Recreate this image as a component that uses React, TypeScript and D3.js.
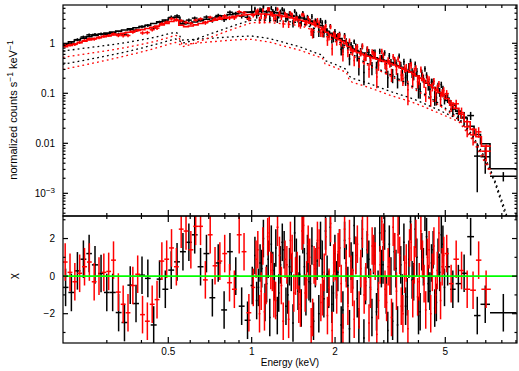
import React from 'react';
import * as d3 from 'd3';

// ---- dataset 1 (black): bin edges in keV, model per bin, relative error, residual (chi)
const blackEdges = [
  0.208, 0.218, 0.229, 0.241, 0.253, 0.265, 0.279, 0.293, 0.307, 0.323,
  0.339, 0.356, 0.373, 0.392, 0.412, 0.432, 0.454, 0.476, 0.5, 0.525,
  0.551, 0.579, 0.608, 0.638, 0.67, 0.704, 0.739, 0.776, 0.815, 0.855,
  0.898, 0.943, 0.99,
  1.02, 1.05, 1.08, 1.11, 1.14, 1.17, 1.2, 1.23, 1.26, 1.3,
  1.34, 1.38, 1.42, 1.46, 1.5, 1.54, 1.58, 1.62, 1.66, 1.71,
  1.76, 1.81, 1.86, 1.91, 1.96, 2.01, 2.06, 2.12, 2.18, 2.24,
  2.3, 2.36, 2.42, 2.49, 2.56, 2.63, 2.7, 2.77, 2.84, 2.92,
  3.0, 3.08, 3.16, 3.25, 3.34, 3.43, 3.52, 3.62, 3.72, 3.82,
  3.92, 4.03, 4.14, 4.25, 4.37, 4.49, 4.61, 4.74, 4.87, 5.0,
  5.2, 5.45, 5.7, 6.0, 6.35, 6.7, 7.25, 9.05,
];
const blackModel = [
  0.98, 1.07, 1.16, 1.26, 1.36, 1.44, 1.52, 1.6, 1.67, 1.75,
  1.84, 1.94, 2.04, 2.15, 2.3, 2.48, 2.68, 2.92, 3.2, 3.3,
  2.45, 2.5, 2.66, 2.84, 3.02, 3.2, 3.38, 3.56, 3.74, 3.92,
  4.08, 4.2, 4.28,
  4.3, 4.32, 4.32, 4.3, 4.26, 4.2, 4.12, 4.05, 3.96, 3.85,
  3.72, 3.58, 3.45, 3.33, 3.2, 3.07, 2.93, 2.78, 2.6, 2.42,
  2.24, 1.95, 1.72, 1.58, 1.46, 1.36, 1.24, 1.12, 1.0, 0.84,
  0.77, 0.72, 0.68, 0.64, 0.6, 0.57, 0.54, 0.51, 0.49, 0.47,
  0.45, 0.43, 0.41, 0.38, 0.355, 0.33, 0.31, 0.29, 0.27, 0.25,
  0.225, 0.2, 0.18, 0.16, 0.145, 0.13, 0.115, 0.102, 0.09,
  0.072, 0.058, 0.044, 0.032, 0.022, 0.015, 0.0098, 0.0031,
];
const blackRelErr = [
  0.07, 0.07, 0.07, 0.07, 0.07, 0.07, 0.07, 0.07, 0.07, 0.07,
  0.07, 0.07, 0.07, 0.07, 0.07, 0.07, 0.07, 0.07, 0.09, 0.09,
  0.09, 0.09, 0.09, 0.09, 0.09, 0.09, 0.09, 0.09, 0.09, 0.09,
  0.09, 0.09, 0.09,
  0.12, 0.12, 0.12, 0.12, 0.12, 0.12, 0.12, 0.12, 0.12, 0.12,
  0.12, 0.12, 0.12, 0.12, 0.12, 0.12, 0.12, 0.15, 0.15, 0.15,
  0.15, 0.15, 0.15, 0.15, 0.15, 0.15, 0.15, 0.15, 0.15, 0.15,
  0.15, 0.18, 0.18, 0.18, 0.18, 0.18, 0.18, 0.18, 0.18, 0.18,
  0.18, 0.18, 0.18, 0.18, 0.18, 0.18, 0.21, 0.21, 0.21, 0.21,
  0.21, 0.21, 0.21, 0.21, 0.21, 0.21, 0.21, 0.21, 0.21,
  0.22, 0.24, 0.26, 0.28, 0.3, 0.3, 0.3, 0.15,
];
const blackChi = [
  -0.6, -0.87, 0.28, 0.9, 1.2, 0.6, 0.14, -0.87, -0.87, -1.94,
  -2.47, -0.48, -1.46, 0.05, -0.12, -2.6, -0.16, -0.7, 0.32, 0.76,
  1.3, 1.8, 2.2, 0.5, 1.2, -1.15, 0.7, -1.8, 1.3, 0.0,
  -1.6, -2.35, -0.5,
  1.1, -0.6, 0.4, -1.4, 0.9, 1.7, -0.3, -2.1, 0.6, 1.4,
  -1.0, 0.2, 2.3, -0.8, -1.7, 0.5, 1.2, -0.4, -2.4, 0.8,
  1.9, -1.2, 0.1, 2.6, -0.9, -0.2, 1.5, -1.8, 0.7, -2.8,
  0.3, 1.1, -2.7, 2.0, -0.5, 0.9, -2.2, 1.6, -0.7, 0.4,
  2.4, -2.9, 0.0, 1.3, -2.6, 0.6, 1.8, -1.1, 2.9, -0.3,
  1.0, -1.9, 0.5, 2.1, -0.8, 1.4, -1.4, 0.2, 1.7,
  0.5, -0.7, -0.4, 0.15, 2.1, -2.1, -1.5, -1.95,
];
// 1-5 keV bins are read as two channels each: residual of the upper half channel
const blackChiUpper = [
  -1.3, 0.7, 2.0, -0.4, -2.2, 0.3, 1.5, -0.9, 1.8, -1.6,
  0.5, -2.5, 1.0, 0.1, 2.2, -1.1, -0.3, 1.6, 0.4, -2.0,
  0.9, 2.4, -0.7, -1.5, 1.2, 0.2, -2.6, 1.9, -0.5, 0.8,
  2.7, -1.2, 0.0, -3.3, 1.4, -0.6, 1.1, -1.9, 2.3, 0.6,
  -1.0, 1.7, -2.4, 0.4, 3.2, -0.9, -1.6, 0.9, -0.2, 2.5,
  -2.1, 1.3, 3.4, -0.4, 0.7, -1.7, 1.0, 2.2, -0.6,
];
const blackSplitFrom = 33;

// ---- dataset 2 (red)
const redEdges = [
  0.208, 0.2165, 0.2254, 0.2346, 0.2442, 0.2543, 0.2647, 0.2755, 0.2868, 0.2986,
  0.3108, 0.3236, 0.3368, 0.3506, 0.365, 0.38, 0.3956, 0.4118, 0.4287, 0.4463,
  0.4646, 0.4836, 0.5034, 0.5241, 0.5456, 0.5679, 0.5912, 0.6155, 0.6407, 0.667,
  0.6943, 0.7228, 0.7524, 0.7833, 0.8154, 0.8488, 0.8836, 0.9199, 0.9576, 0.9969,
  1.03, 1.06, 1.09, 1.12, 1.15, 1.18, 1.21, 1.25, 1.29, 1.33,
  1.37, 1.41, 1.45, 1.49, 1.53, 1.57, 1.61, 1.65, 1.69, 1.74,
  1.79, 1.84, 1.89, 1.94, 1.99, 2.04, 2.09, 2.15, 2.21, 2.27,
  2.33, 2.39, 2.46, 2.53, 2.6, 2.67, 2.74, 2.81, 2.89, 2.97,
  3.05, 3.13, 3.22, 3.31, 3.4, 3.49, 3.59, 3.69, 3.79, 3.89,
  4.0, 4.11, 4.22, 4.34, 4.46, 4.58, 4.71, 4.84, 4.97,
  5.15, 5.35, 5.6, 5.85, 6.15, 6.45, 6.75, 7.3,
];
const redModel = [
  0.85, 0.91, 0.97, 1.03, 1.1, 1.17, 1.24, 1.3, 1.36, 1.41,
  1.46, 1.52, 1.59, 1.66, 1.73, 1.81, 1.88, 1.97, 2.08, 2.2,
  2.34, 2.5, 2.72, 2.85, 2.3, 2.15, 2.22, 2.34, 2.48, 2.62,
  2.76, 2.9, 3.04, 3.18, 3.32, 3.45, 3.57, 3.68, 3.76, 3.82,
  3.84, 3.85, 3.84, 3.82, 3.78, 3.72, 3.65, 3.56, 3.46, 3.35,
  3.23, 3.11, 3.0, 2.89, 2.78, 2.66, 2.53, 2.39, 2.24, 2.08,
  1.92, 1.66, 1.5, 1.38, 1.28, 1.18, 1.08, 0.98, 0.86, 0.74,
  0.69, 0.65, 0.61, 0.58, 0.55, 0.52, 0.5, 0.48, 0.455, 0.435,
  0.415, 0.395, 0.37, 0.345, 0.325, 0.305, 0.285, 0.265, 0.245, 0.222,
  0.2, 0.18, 0.162, 0.146, 0.131, 0.117, 0.104, 0.092,
  0.078, 0.064, 0.05, 0.038, 0.027, 0.019, 0.0135, 0.0088,
];
const redRelErr = [
  0.07, 0.07, 0.07, 0.07, 0.07, 0.07, 0.07, 0.07, 0.07, 0.07,
  0.07, 0.07, 0.07, 0.07, 0.07, 0.07, 0.07, 0.07, 0.07, 0.07,
  0.07, 0.07, 0.09, 0.09, 0.09, 0.09, 0.09, 0.09, 0.09, 0.09,
  0.09, 0.09, 0.09, 0.09, 0.09, 0.09, 0.09, 0.09, 0.09, 0.09,
  0.12, 0.12, 0.12, 0.12, 0.12, 0.12, 0.12, 0.12, 0.12, 0.12,
  0.12, 0.12, 0.12, 0.12, 0.12, 0.12, 0.12, 0.15, 0.15, 0.15,
  0.15, 0.15, 0.15, 0.15, 0.15, 0.15, 0.15, 0.15, 0.15, 0.15,
  0.15, 0.18, 0.18, 0.18, 0.18, 0.18, 0.18, 0.18, 0.18, 0.18,
  0.18, 0.18, 0.18, 0.18, 0.18, 0.18, 0.21, 0.21, 0.21, 0.21,
  0.21, 0.21, 0.21, 0.21, 0.21, 0.21, 0.21, 0.21,
  0.22, 0.24, 0.26, 0.28, 0.3, 0.3, 0.3, 0.3,
];
const redChi = [
  0.75, 0.2, -0.3, 0.15, 0.5, 0.75, -0.3, 0.0, 0.2, 0.25,
  0.85, -0.85, -1.5, -1.95, -0.5, 0.1, -2.05, -2.4, -1.5, -1.25,
  0.8, 0.9, 1.5, 0.5, 2.5, 2.4, 1.4, 2.65, 2.65, -0.2,
  2.2, 0.55, 0.8, 1.2, -0.35, -0.7, 2.2, 1.3, -1.95, -0.6,
  0.9, -2.0, 1.6, -0.5, 2.3, 0.2, -1.3, 1.1, -2.4, 0.6,
  1.9, -0.9, 0.3, -1.7, 2.7, -0.2, 1.0, -2.2, 0.5, 1.5,
  -1.1, 2.1, -0.6, -2.9, 0.8, 1.3, -0.4, 2.5, -1.6, 0.1,
  -2.3, 1.7, 0.4, -1.0, 2.2, -0.7, 1.2, -3.1, 0.6, 1.8,
  -1.4, 0.0, 2.6, -0.8, 1.1, -2.0, 0.7, 1.5, -1.2, 2.0,
  -0.3, 0.9, -1.8, 1.4, 0.2, -1.0, 2.3, 0.5,
  1.2, -0.4, 0.9, 0.3, -0.7, -0.75, 0.85, -0.7,
];
const redChiUpper = [
  1.4, -0.8, -1.9, 2.1, 0.3, -1.2, 2.6, -0.5, 0.9, -2.3,
  1.2, 0.0, -1.5, 2.4, -0.9, 1.7, -2.7, 0.6, 1.9, -1.4,
  0.2, -2.1, 2.8, 0.7, -1.0, 1.5, -3.0, 0.4, 2.0, -0.6,
  1.1, -1.8, 2.5, -0.3, -2.5, 1.6, 0.8, -1.3, 2.9, -0.7,
  0.5, -2.2, 1.3, 2.2, -1.6, 0.1, -2.8, 1.8, 0.6, -1.1,
  2.4, -0.4, 1.0, -2.0, 1.6, 0.3, -1.3, 1.1,
];
const redSplitFrom = 40;

// ---- model components (dotted curves)
const compEnergyBlack = [
  0.208, 0.25, 0.3, 0.35, 0.4, 0.45, 0.5, 0.53, 0.545, 0.56,
  0.6, 0.7, 0.8, 0.9, 1.0, 1.15, 1.3, 1.5, 1.72, 1.8,
  1.84, 2.0, 2.2, 2.25, 2.3, 2.5, 2.7, 3.15, 3.7, 4.05,
  4.75, 5.6, 6.25, 7.0, 7.5, 8.1, 8.6,
];
const blackSoft = [
  0.7, 0.8, 0.91, 1.03, 1.17, 1.33, 1.55, 1.66, 1.55, 1.16,
  1.18, 1.25, 1.32, 1.37, 1.4, 1.25, 1.05, 0.84, 0.63, 0.58,
  0.45, 0.38, 0.3, 0.22, 0.2, 0.175, 0.152, 0.11, 0.083, 0.068,
  0.046, 0.03, 0.0135, 0.0042, 0.0018, 0.0005, 0.00016,
];
const blackHard = [
  0.38, 0.46, 0.56, 0.67, 0.8, 0.95, 1.12, 1.22, 1.18, 1.0,
  1.1, 1.5, 1.95, 2.45, 2.92, 2.9, 2.79, 2.55, 1.9, 1.75,
  1.55, 1.2, 0.85, 0.7, 0.62, 0.45, 0.36, 0.24, 0.15, 0.11,
  0.062, 0.032, 0.015, 0.0048, 0.002, 0.0006, 0.0002,
];
const compEnergyRed = [
  0.208, 0.25, 0.3, 0.35, 0.4, 0.45, 0.5, 0.53, 0.545, 0.56,
  0.6, 0.7, 0.8, 0.9, 1.0, 1.15, 1.3, 1.5, 1.72, 1.8,
  1.84, 2.0, 2.2, 2.25, 2.3, 2.5, 2.7, 3.15, 3.7, 4.05,
  4.75, 5.6, 6.25, 7.0, 7.3,
];
const redSoft = [
  0.52, 0.61, 0.71, 0.82, 0.95, 1.1, 1.3, 1.45, 1.36, 0.96,
  0.98, 1.06, 1.13, 1.18, 1.2, 1.07, 0.89, 0.72, 0.55, 0.51,
  0.39, 0.33, 0.26, 0.185, 0.168, 0.145, 0.126, 0.092, 0.07, 0.058,
  0.04, 0.027, 0.012, 0.0038, 0.0024,
];
const redHard = [
  0.3, 0.37, 0.46, 0.56, 0.67, 0.8, 0.95, 1.04, 1.0, 0.85,
  0.94, 1.28, 1.68, 2.12, 2.58, 2.6, 2.45, 2.25, 1.72, 1.6,
  1.42, 1.1, 0.78, 0.65, 0.58, 0.42, 0.34, 0.225, 0.14, 0.104,
  0.058, 0.03, 0.014, 0.0046, 0.0028,
];

// ---- axes
const xMajor = [0.5, 1, 2, 5];
const xMajorLabels = ['0.5', '1', '2', '5'];
const xMinor = [0.3, 0.4, 0.6, 0.7, 0.8, 0.9, 3, 4, 6, 7, 8, 9];
const yTopMajor = [0.001, 0.01, 0.1, 1];
const yTopLabels = ['10^-3', '0.01', '0.1', '1'];
const yTopDecades = [1e-4, 1e-3, 1e-2, 0.1, 1];
const yResMajor = [-2, 0, 2];
const yResLabels = ['\u22122', '0', '2'];
const yResMinor = [-3, -1, 1, 3];

const W = 519;
const H = 371;
const left = 63;
const right = 517;
const top = 5;
const mid = 216;
const bottom = 343;
const FONT = "'Liberation Sans', Arial, Helvetica, sans-serif";

const x = d3.scaleLog().domain([0.2084, 9.075]).range([left, right]);
const yTop = d3.scaleLog().domain([3.52e-4, 5.83]).range([mid, top]);
const yRes = d3.scaleLinear().domain([-3.56, 3.2]).range([bottom, mid]);

type Bin = { lo: number; hi: number; c: number; model: number; sig: number; rate: number; chi: number };

function channel(lo: number, hi: number, m: number, r: number, chi: number): Bin {
  const sig = m * r;
  return { lo, hi, c: Math.sqrt(lo * hi), model: m, sig, rate: m + chi * sig, chi };
}

// data channels: bins from splitFrom on are split in two (lower / upper half)
function makeChannels(edges: number[], model: number[], relErr: number[], chi: number[], upper: number[], splitFrom: number): Bin[] {
  const out: Bin[] = [];
  model.forEach((m, i) => {
    const lo = edges[i];
    const hi = edges[i + 1];
    const j = i - splitFrom;
    if (j >= 0 && j < upper.length) {
      const gm = Math.sqrt(lo * hi);
      out.push(channel(lo, gm, m, relErr[i], chi[i]));
      out.push(channel(gm, hi, m, relErr[i], upper[j]));
    } else {
      out.push(channel(lo, hi, m, relErr[i], chi[i]));
    }
  });
  return out;
}

const blackData = makeChannels(blackEdges, blackModel, blackRelErr, blackChi, blackChiUpper, blackSplitFrom);
const redData = makeChannels(redEdges, redModel, redRelErr, redChi, redChiUpper, redSplitFrom);

const line = d3.line<[number, number]>().x(d => x(d[0])).y(d => yTop(d[1]));
const stepPath = (edges: number[], model: number[]) =>
  line(model.flatMap((m, i) => [[edges[i], m], [edges[i + 1], m]] as [number, number][])) || '';
const compPath = (es: number[], vs: number[]) =>
  line(es.map((e, i) => [e, vs[i]] as [number, number])) || '';

const SW = 1.5;

function TopData({ bins, color }: { bins: Bin[]; color: string }) {
  return (
    <g stroke={color} strokeWidth={SW}>
      {bins.map((b, i) => {
        const y0 = yTop(Math.max(b.rate - b.sig, 1e-6));
        const y1 = yTop(b.rate + b.sig);
        const yc = yTop(b.rate);
        return (
          <g key={i}>
            <line x1={x(b.lo)} x2={x(b.hi)} y1={yc} y2={yc} />
            <line x1={x(b.c)} x2={x(b.c)} y1={y0} y2={y1} />
          </g>
        );
      })}
    </g>
  );
}

function ResData({ bins, color }: { bins: Bin[]; color: string }) {
  return (
    <g stroke={color} strokeWidth={SW}>
      {bins.map((b, i) => {
        const yc = yRes(b.chi);
        return (
          <g key={i}>
            <line x1={x(b.lo)} x2={x(b.hi)} y1={yc} y2={yc} />
            <line x1={x(b.c)} x2={x(b.c)} y1={yRes(b.chi - 1)} y2={yRes(b.chi + 1)} />
          </g>
        );
      })}
    </g>
  );
}

export default function App() {
  const topMinor: number[] = [];
  yTopDecades.forEach(d => {
    for (let k = 2; k <= 9; k++) {
      const v = d * k;
      if (v > 3.52e-4 && v < 5.83) topMinor.push(v);
    }
  });

  const xTicks = (y0: number, dir: number) => (
    <g>
      {xMajor.map(v => (
        <line key={'M' + v} x1={x(v)} x2={x(v)} y1={y0} y2={y0 + dir * 6} />
      ))}
      {xMinor.map(v => (
        <line key={'m' + v} x1={x(v)} x2={x(v)} y1={y0} y2={y0 + dir * 3} />
      ))}
    </g>
  );

  return (
    <svg
      width={W}
      height={H}
      style={{ position: 'fixed', left: 0, top: 0, background: '#fff' }}
      fontFamily={FONT}
    >
      <defs>
        <clipPath id="clipTop">
          <rect x={left} y={top} width={right - left} height={mid - top} />
        </clipPath>
        <clipPath id="clipRes">
          <rect x={left} y={mid} width={right - left} height={bottom - mid} />
        </clipPath>
      </defs>
      <rect width={W} height={H} fill="#fff" />

      {/* spectrum panel */}
      <g clipPath="url(#clipTop)">
        <TopData bins={blackData} color="#000" />
        <path d={stepPath(blackEdges, blackModel)} fill="none" stroke="#000" strokeWidth={1.6} />
        <TopData bins={redData} color="#ff0000" />
        <path d={stepPath(redEdges, redModel)} fill="none" stroke="#ff0000" strokeWidth={1.6} />
        <g fill="none" strokeWidth={1.3} strokeDasharray="1.8 3.2">
          <path d={compPath(compEnergyBlack, blackSoft)} stroke="#000" />
          <path d={compPath(compEnergyBlack, blackHard)} stroke="#000" />
          <path d={compPath(compEnergyRed, redSoft)} stroke="#ff0000" />
          <path d={compPath(compEnergyRed, redHard)} stroke="#ff0000" />
        </g>
      </g>

      {/* residual panel */}
      <g clipPath="url(#clipRes)">
        <ResData bins={blackData} color="#000" />
        <ResData bins={redData} color="#ff0000" />
        <line x1={left} x2={right} y1={yRes(0)} y2={yRes(0)} stroke="#00ff00" strokeWidth={1.8} />
      </g>

      {/* frames and ticks */}
      <g stroke="#000" strokeWidth={1.2} fill="none">
        <rect x={left} y={top} width={right - left} height={mid - top} />
        <rect x={left} y={mid} width={right - left} height={bottom - mid} />
        {xTicks(top, 1)}
        {xTicks(mid, -1)}
        {xTicks(mid, 1)}
        {xTicks(bottom, -1)}
        {yTopMajor.map(v => (
          <g key={'ty' + v}>
            <line x1={left} x2={left + 5} y1={yTop(v)} y2={yTop(v)} />
            <line x1={right} x2={right - 5} y1={yTop(v)} y2={yTop(v)} />
          </g>
        ))}
        {topMinor.map(v => (
          <g key={'tm' + v}>
            <line x1={left} x2={left + 2.5} y1={yTop(v)} y2={yTop(v)} />
            <line x1={right} x2={right - 2.5} y1={yTop(v)} y2={yTop(v)} />
          </g>
        ))}
        {yResMajor.map(v => (
          <g key={'ry' + v}>
            <line x1={left} x2={left + 5} y1={yRes(v)} y2={yRes(v)} />
            <line x1={right} x2={right - 5} y1={yRes(v)} y2={yRes(v)} />
          </g>
        ))}
        {yResMinor.map(v => (
          <g key={'rm' + v}>
            <line x1={left} x2={left + 2.5} y1={yRes(v)} y2={yRes(v)} />
            <line x1={right} x2={right - 2.5} y1={yRes(v)} y2={yRes(v)} />
          </g>
        ))}
      </g>

      {/* tick labels */}
      <g fontSize={10} fill="#000">
        {yTopMajor.map((v, i) => {
          const lab = yTopLabels[i];
          if (lab.startsWith('10^')) {
            return (
              <text key={lab} x={55} y={yTop(v) + 3.5} textAnchor="end">
                10<tspan fontSize={8} dy={-4}>{'\u2212' + lab.slice(4)}</tspan>
              </text>
            );
          }
          return (
            <text key={lab} x={55} y={yTop(v) + 3.5} textAnchor="end">{lab}</text>
          );
        })}
        {yResMajor.map((v, i) => (
          <text key={'rl' + v} x={55} y={yRes(v) + 3.5} textAnchor="end">{yResLabels[i]}</text>
        ))}
        {xMajor.map((v, i) => (
          <text key={'xl' + v} x={x(v)} y={355} textAnchor="middle">{xMajorLabels[i]}</text>
        ))}
        <text x={290} y={366} textAnchor="middle">Energy (keV)</text>
        <text transform="translate(16.5,110) rotate(-90)" textAnchor="middle" fontSize={11}>
          normalized counts s<tspan fontSize={8.5} dy={-4}>{'\u22121'}</tspan>
          <tspan dy={4}>{'  keV'}</tspan>
          <tspan fontSize={8.5} dy={-4}>{'\u22121'}</tspan>
        </text>
        <text transform={`translate(17,${yRes(0)}) rotate(-90)`} textAnchor="middle" fontSize={11}>χ</text>
      </g>
    </svg>
  );
}
